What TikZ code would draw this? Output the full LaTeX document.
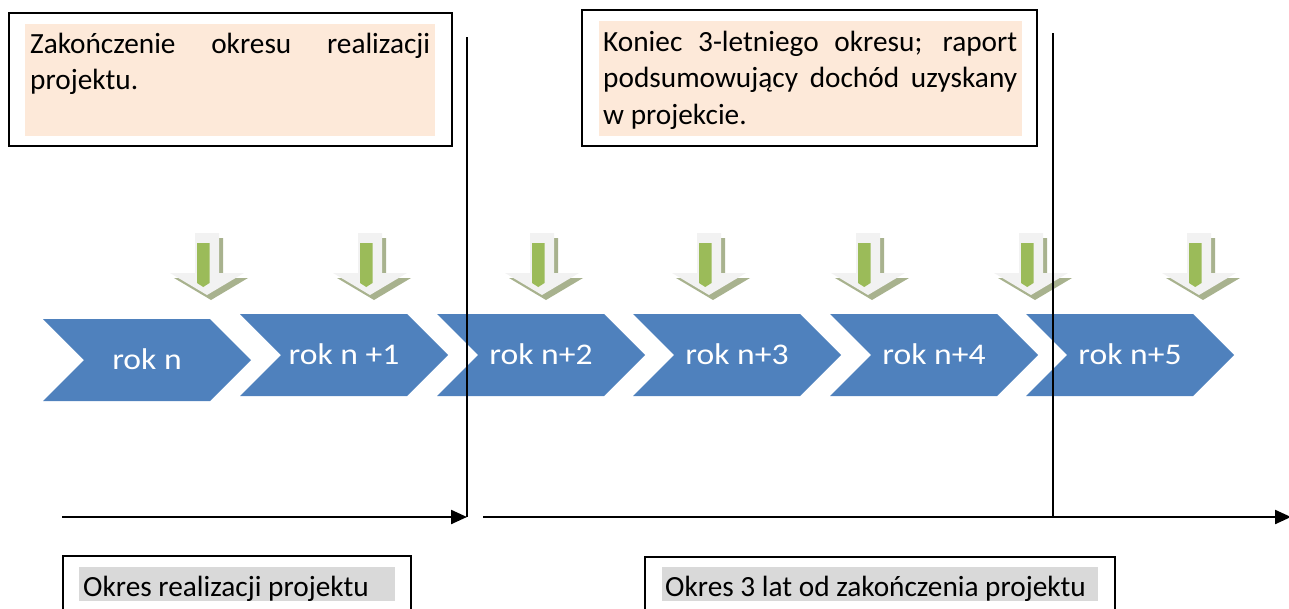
\documentclass[tikz,border=0pt]{standalone}
\usepackage{fontspec}
\newfontfamily\calib{Carlito}
\newfontfamily\calibw{Carlito}[FakeStretch=1.12]
\usetikzlibrary{arrows.meta}
\definecolor{chev}{HTML}{4F81BD}
\definecolor{peach}{HTML}{FDE9D9}
\definecolor{lgray}{HTML}{D9D9D9}
\definecolor{agreen}{HTML}{9BBB59}
\definecolor{alight}{HTML}{F2F2F2}
\definecolor{ashadow}{RGB}{168,178,142}
\begin{document}
\begin{tikzpicture}[x=1pt,y=-1pt,
  chevlabel/.style={text=white,font=\calibw\fontsize{30}{36}\selectfont,inner sep=0,anchor=base},
  framebox/.style={draw=black,line width=1.6pt},
  bodytext/.style={font=\calib\fontsize{29.3}{36.5}\selectfont,inner sep=0,anchor=base west},
  timeline/.style={line width=2.3pt,-{Triangle[length=16pt,width=14pt]}},
  marker/.style={line width=1.3pt},
  arrowshape/.style={insert path={(-12,0) -- (12,0) -- (12,40) -- (37,40) -- (0,62) -- (-37,40) -- (-12,40) -- cycle}},
  garrow/.pic={
    \fill[ashadow,shift={(4,5)}] [arrowshape];
    \fill[alight] [arrowshape];
    \fill[agreen] (-10,10) -- (2.5,10) -- (2.5,50) -- (-3.75,54) -- (-10,50) -- cycle;
  }]
\useasboundingbox (0,0) rectangle (1289,608);
\clip (0,0) rectangle (1289,608);

% top boxes
\draw[framebox,fill=white] (9,13) rectangle (452,146);
\fill[peach] (25,24) rectangle (435,136);
\node[bodytext,text width=400pt,align=justify] (t1) at (30,53)
  {\hyphenpenalty=10000\exhyphenpenalty=10000 Zakończenie okresu realizacji\linebreak projektu.};
\draw[framebox,fill=white] (582,10) rectangle (1037,146);
\fill[peach] (599,21) rectangle (1022,136);
\node[bodytext,text width=414pt,align=justify] (t2) at (603,51)
  {\hyphenpenalty=10000\exhyphenpenalty=10000 Koniec 3-letniego okresu; raport\linebreak podsumowujący dochód uzyskany\linebreak w projekcie.};

% green arrows
\foreach \cx [count=\i] in {207,370,542,709,868,1031,1199}
  \pic (g\i) at (\cx,233) {garrow};

% chevrons
\fill[chev] (43,319) -- (210,319) -- (251,360) -- (210,401) -- (43,401) -- (84,360) -- cycle;
\node[chevlabel] (c1) at (147,369) {rok n};
\foreach \L/\lab [count=\i from 2] in {240/rok n +1,437/rok n+2,633/rok n+3,830/rok n+4,1026/rok n+5}{
  \fill[chev] (\L,314) -- (\L+167,314) -- (\L+208,355) -- (\L+167,396) -- (\L,396) -- (\L+41,355) -- cycle;
  \node[chevlabel] (c\i) at (\L+104,364) {\lab};
}

% vertical markers
\coordinate (v1top) at (467,37);
\coordinate (v1bot) at (467,517);
\coordinate (v2top) at (1053,33);
\coordinate (v2bot) at (1053,517);
\draw[marker] (v1top) -- (v1bot);
\draw[marker] (v2top) -- (v2bot);

% timelines
\coordinate (a1s) at (62,517);
\coordinate (a2s) at (483,517);
\coordinate (a2e) at (1291,517);
\draw[timeline] (a1s) -- (v1bot);
\draw[timeline] (a2s) -- (a2e);

% bottom boxes
\draw[framebox] (63,556) rectangle (411,640);
\fill[lgray] (79,567) rectangle (395,601);
\node[bodytext] (b1) at (83,596) {Okres realizacji projektu};
\draw[framebox] (645,557) rectangle (1115,640);
\fill[lgray] (662,567) rectangle (1098,601);
\node[bodytext] (b2) at (665,596) {Okres 3 lat od zakończenia projektu};
\end{tikzpicture}
\end{document}
